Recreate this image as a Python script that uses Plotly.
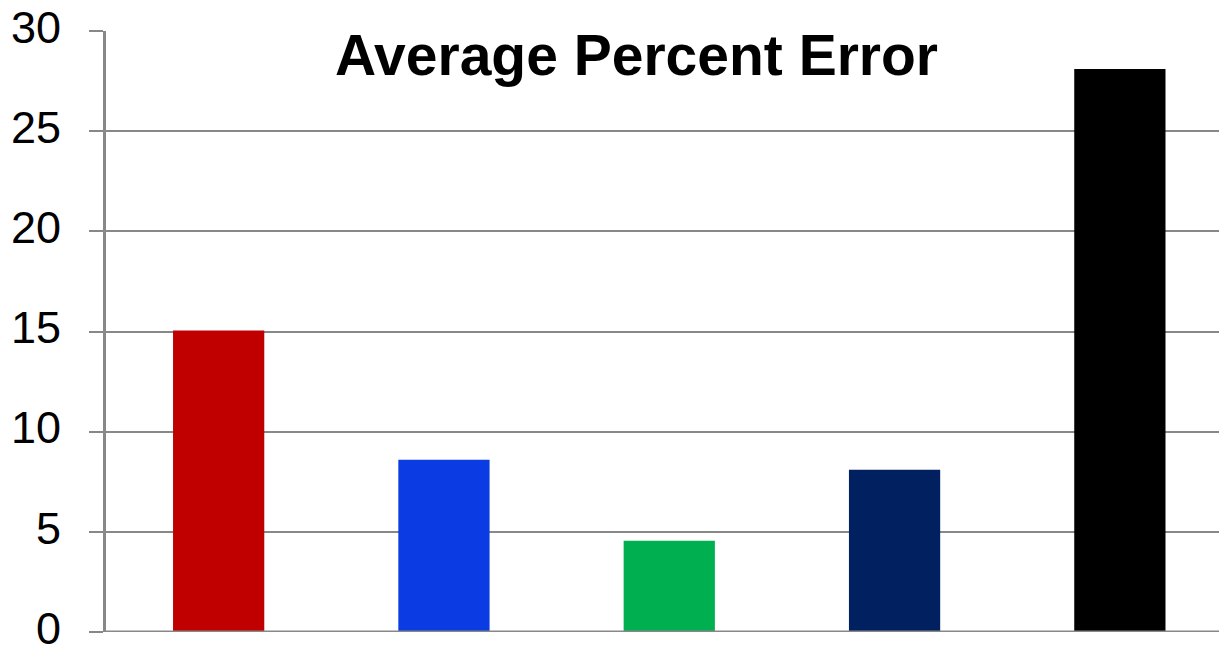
import plotly.graph_objects as go

categories = ["A", "B", "C", "D", "E"]
values = [15.05, 8.6, 4.55, 8.1, 28.1]
colors = ["#C00000", "#0A3BE3", "#00B050", "#002060", "#000000"]
y_ticks = [0, 5, 10, 15, 20, 25, 30]

fig = go.Figure()
fig.add_trace(go.Bar(
    x=list(range(len(categories))), y=values,
    marker=dict(color=colors, line=dict(width=0)),
    width=0.405,
))

fig.update_layout(
    width=1219, height=648,
    margin=dict(l=106, r=0, t=31, b=16, autoexpand=False),
    paper_bgcolor="white", plot_bgcolor="white",
    showlegend=False,
    font=dict(family="Liberation Sans, Arial", color="black"),
    xaxis=dict(range=[-0.5, 4.44], showticklabels=False, showgrid=False,
               zeroline=False, showline=False, ticks="", automargin=False),
    yaxis=dict(range=[0, 30], tickvals=y_ticks, ticktext=[str(v) for v in y_ticks],
               showgrid=True, gridcolor="#888888", gridwidth=2,
               ticks="outside", ticklen=14, tickcolor="#888888", tickwidth=2,
               showline=True, linecolor="#888888", linewidth=3,
               zeroline=False, tickfont=dict(size=45, color="black"),
               ticklabelstandoff=19, ticklabelshift=-4,
               ticklabeloverflow="allow", automargin=False),
    annotations=[dict(text="<b>Average Percent Error</b>", x=0.477, y=1.0,
                      xref="paper", yref="paper", showarrow=False,
                      yanchor="top", yshift=10,
                      font=dict(size=57, color="black"))],
)
fig.add_shape(type="line", xref="paper", yref="y", x0=0, x1=1, y0=0, y1=0,
              line=dict(color="#888888", width=3))
fig.write_html("out.html")
